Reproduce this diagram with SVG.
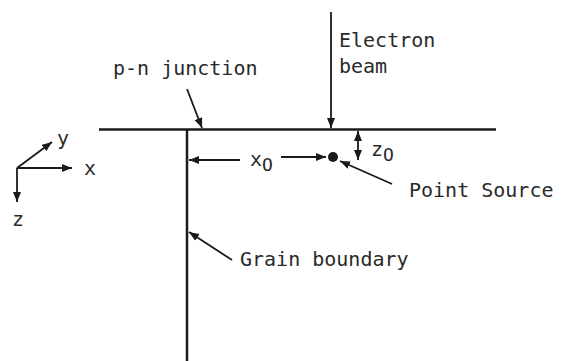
<svg xmlns="http://www.w3.org/2000/svg" width="561" height="361" viewBox="0 0 561 361">
<style>
text{font-family:"DejaVu Sans Mono","Liberation Mono",monospace;font-size:20px;fill:#2a2a2a}
.sub{font-size:18px}
.ln{stroke:#1a1a1a;stroke-width:2.5;fill:none}
.ar{stroke:#1a1a1a;stroke-width:1.8;fill:none}
</style>
<defs>
<marker id="ah" viewBox="0 0 10 8" refX="10" refY="4" markerWidth="10" markerHeight="8" markerUnits="userSpaceOnUse" orient="auto-start-reverse">
<path d="M0,0 L10,4 L0,8 Z" fill="#1a1a1a"/>
</marker>
</defs>
<rect width="561" height="361" fill="#ffffff"/>
<g id="junction">
<line class="ln" x1="99" y1="129.5" x2="496" y2="129.5"/>
</g>
<g id="grain-boundary">
<line class="ln" x1="187" y1="129" x2="187" y2="361"/>
</g>
<g id="point-source">
<circle cx="333" cy="157" r="5" fill="#1a1a1a"/>
</g>
<g id="axes">
<line class="ar" x1="17" y1="168" x2="52" y2="142" marker-end="url(#ah)"/>
<line class="ar" x1="17" y1="168" x2="72" y2="168" marker-end="url(#ah)"/>
<line class="ar" x1="17" y1="168" x2="17" y2="202" marker-end="url(#ah)"/>
<text x="57" y="145">y</text>
<text x="84" y="175">x</text>
<text x="12" y="226">z</text>
</g>
<g id="connectors">
<line class="ar" x1="331" y1="12" x2="331" y2="128" marker-end="url(#ah)"/>
<line class="ar" x1="187" y1="89" x2="202" y2="128" marker-end="url(#ah)"/>
<line class="ar" x1="358" y1="131" x2="358" y2="160" marker-start="url(#ah)" marker-end="url(#ah)"/>
<line class="ar" x1="240" y1="160" x2="189" y2="160" marker-end="url(#ah)"/>
<line class="ar" x1="281" y1="157" x2="326" y2="157" marker-end="url(#ah)"/>
<line class="ar" x1="392" y1="184" x2="340" y2="161" marker-end="url(#ah)"/>
<line class="ar" x1="232" y1="260" x2="189" y2="232" marker-end="url(#ah)"/>
</g>
<g id="labels">
<text x="339" y="47">Electron</text>
<text x="339" y="73">beam</text>
<text x="113" y="75">p-n junction</text>
<text x="250" y="166">x<tspan class="sub" dy="5">O</tspan></text>
<text x="371" y="156">z<tspan class="sub" dy="5">O</tspan></text>
<text x="409" y="197">Point Source</text>
<text x="240" y="266">Grain boundary</text>
</g>
</svg>
